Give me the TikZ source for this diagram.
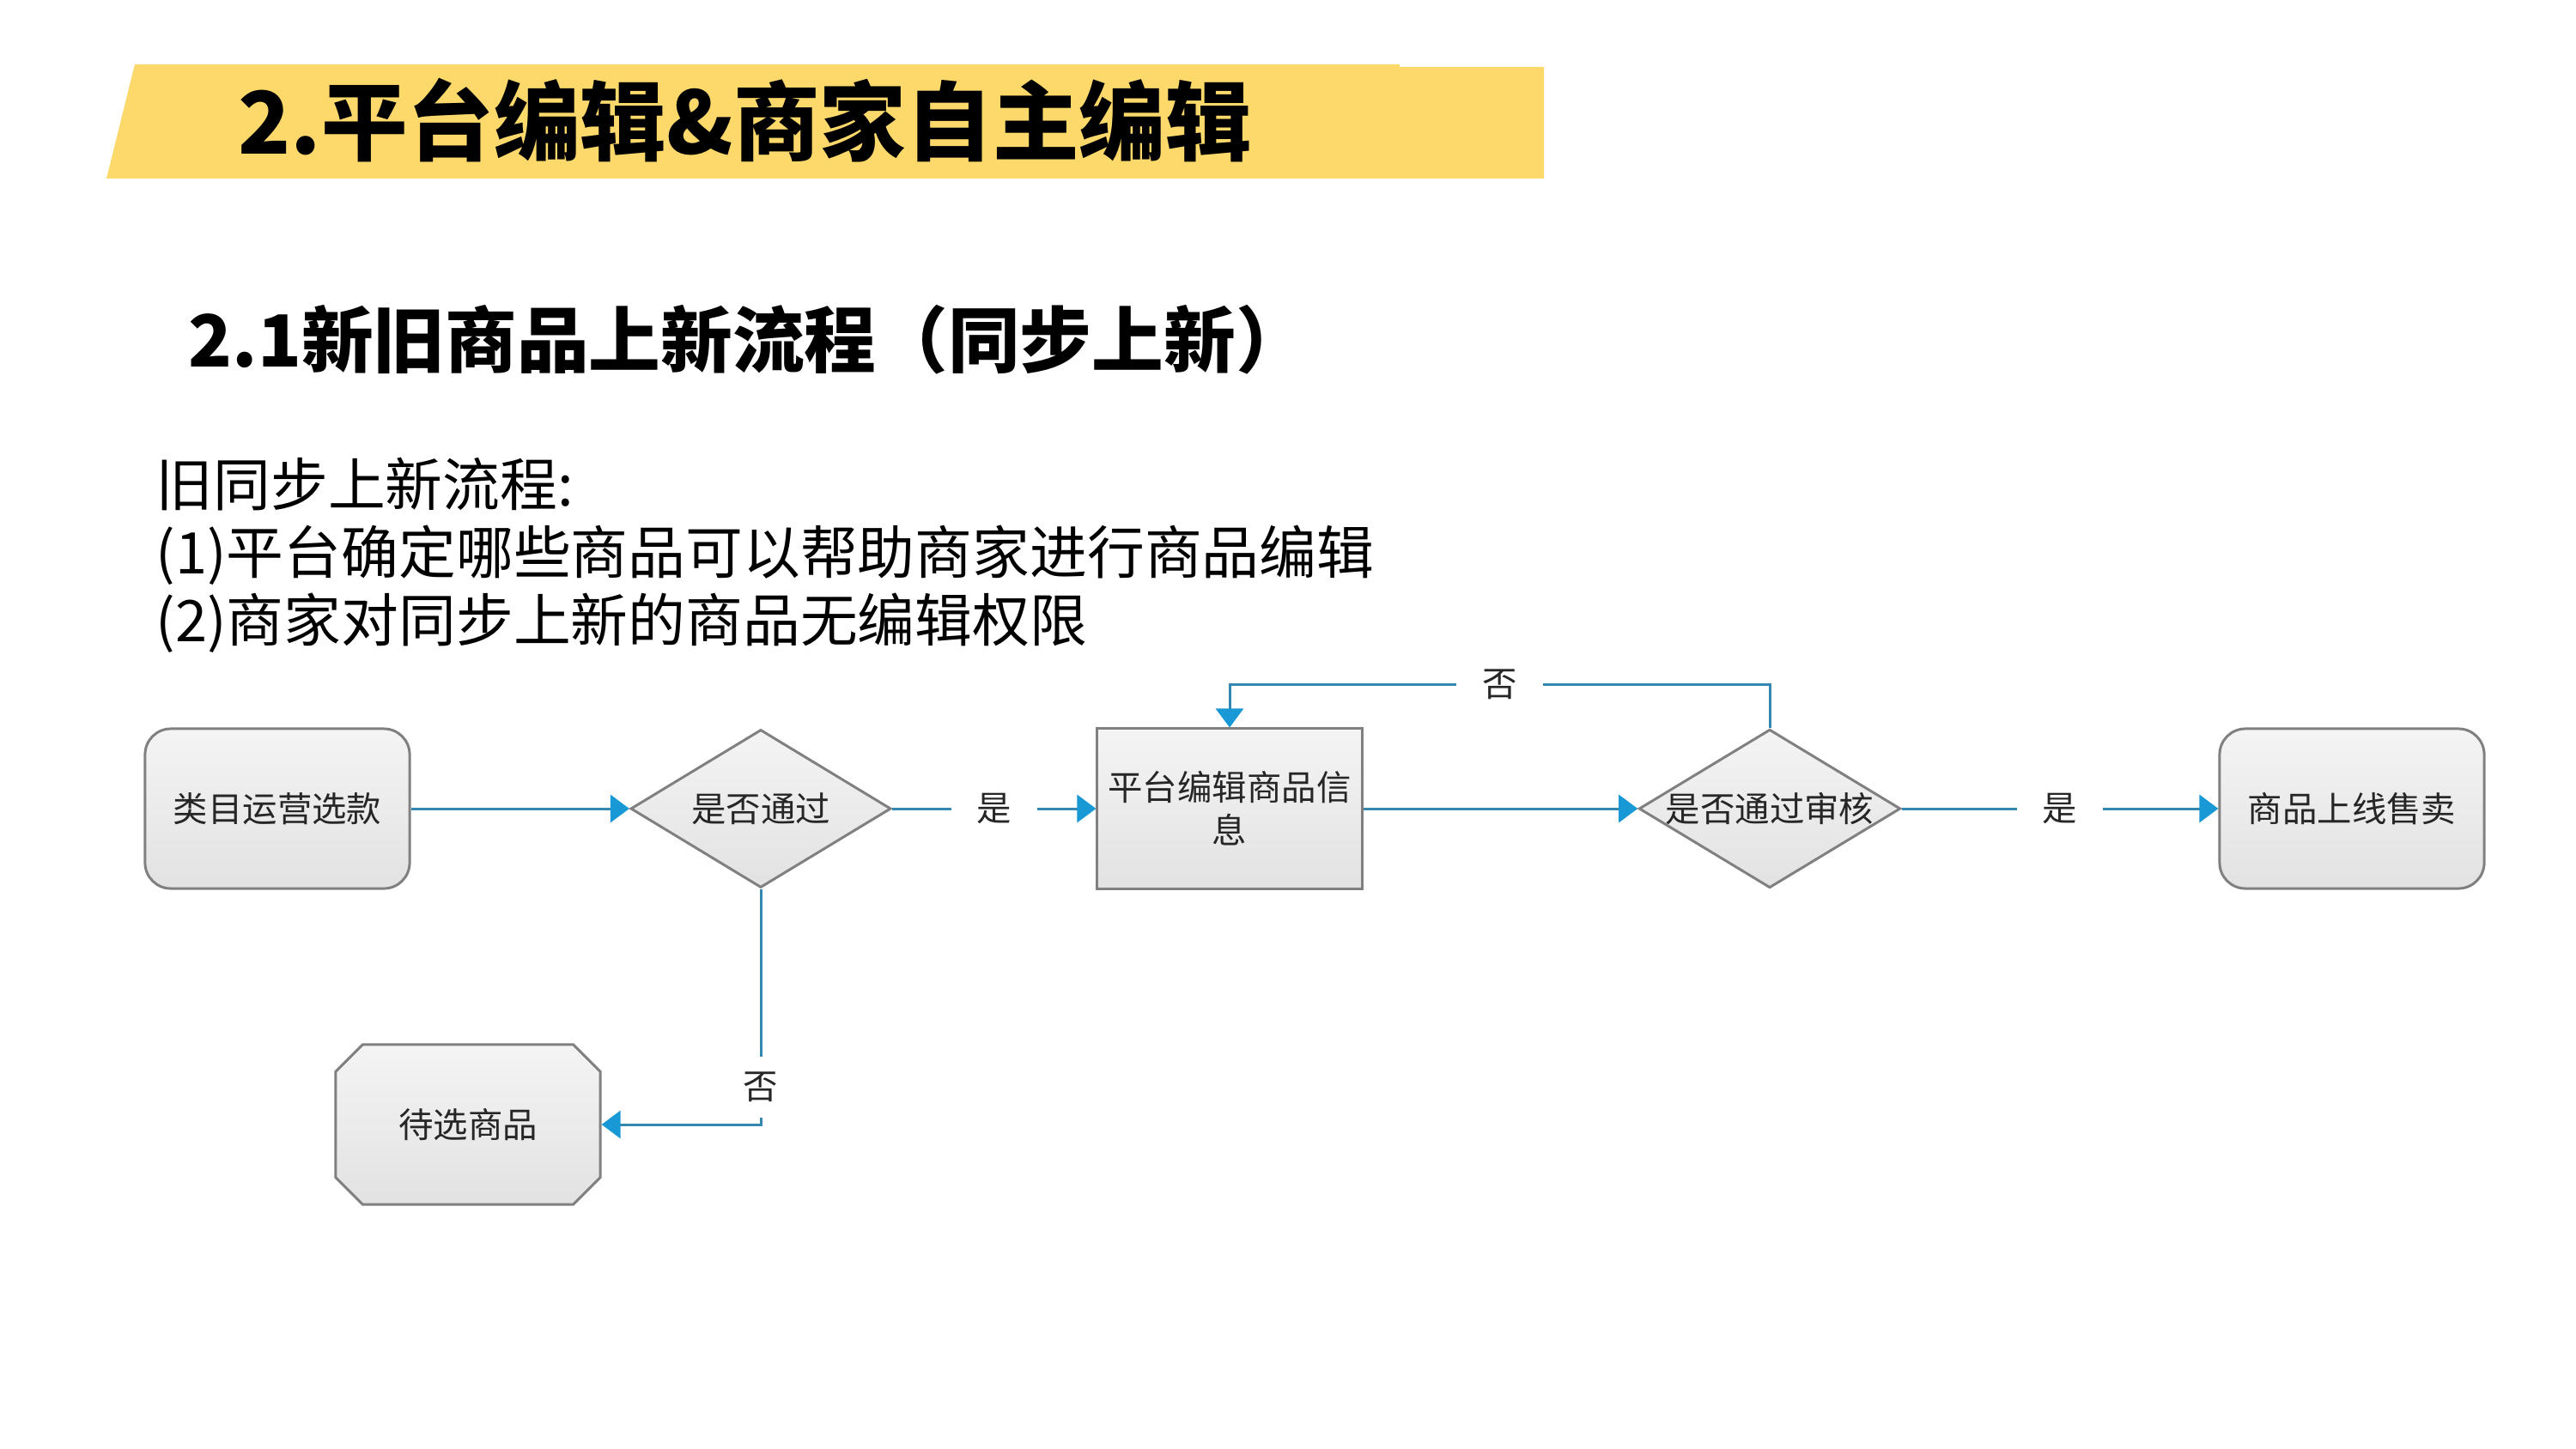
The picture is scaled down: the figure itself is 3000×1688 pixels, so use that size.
\documentclass[tikz,border=0pt]{standalone}
\usepackage{fontspec}
\setmainfont{Noto Sans CJK SC}
\usetikzlibrary{arrows.meta,shapes.geometric,shapes.misc}
\definecolor{bannery}{RGB}{253,216,106}
\definecolor{flowline}{RGB}{52,136,176}
\definecolor{flowtip}{RGB}{24,152,212}
\definecolor{boxedge}{RGB}{128,128,128}
\definecolor{boxtop}{RGB}{244,244,244}
\definecolor{boxbot}{RGB}{226,226,226}
\begin{document}
\begin{tikzpicture}[x=0.01cm, y=-0.01cm, >={Triangle[length=2.2mm,width=3.2mm,color=flowtip]},
        every node/.style={font=\fontsize{11.5}{14.2}\selectfont, text=black!85},
        box/.style={draw=boxedge, line width=0.85pt, top color=boxtop, bottom color=boxbot, minimum width=3.08cm, minimum height=1.86cm, inner sep=0pt},
        roundbox/.style={box, rounded corners=0.3cm},
        cutbox/.style={box, chamfered rectangle, chamfered rectangle xsep=0.26cm},
        decision/.style={box, diamond, aspect=1.65, minimum width=3.03cm, minimum height=1.84cm},
        flow/.style={->, draw=flowline, line width=0.85pt},
        lbl/.style={fill=white, inner xsep=0.3cm, inner ysep=0.18cm},
        heading/.style={anchor=west, inner sep=0pt, text=black}]
        \useasboundingbox (0,0) rectangle (3000,1688);
        \fill[bannery] (157,75) -- (1630,75) -- (1630,78) -- (1798,78) -- (1798,208) -- (124,208) -- cycle;
        \node[heading, font=\bfseries\fontsize{28.6}{34}\selectfont] (title) at (277,140) {2.平台编辑\&商家自主编辑};
        \node[heading, font=\bfseries\fontsize{23.8}{29}\selectfont] (subtitle) at (219,396) {2.1新旧商品上新流程（同步上新）};
        \node[heading, align=left, font=\fontsize{19}{22.5}\selectfont] (intro) at (181,647) {旧同步上新流程:\\(1)平台确定哪些商品可以帮助商家进行商品编辑\\(2)商家对同步上新的商品无编辑权限};
        \node[roundbox] (pick) at (323,942) {类目运营选款};
        \node[decision] (pass) at (886,942) {是否通过};
        \node[box, align=center] (edit) at (1432,942) {平台编辑商品信\\息};
        \node[decision] (audit) at (2061,942) {是否通过审核};
        \node[roundbox] (sell) at (2739,942) {商品上线售卖};
        \node[cutbox] (wait) at (545,1310) {待选商品};
        \draw[flow] (pick) -- (pass);
        \draw[flow] (pass) -- node[lbl]{是} (edit);
        \draw[flow] (edit) -- (audit);
        \draw[flow] (audit) -- node[lbl]{是} (sell);
        \draw[flow] (audit.north) -- ++(0,-51) -| node[lbl,pos=0.25]{否} (edit.north);
        \draw[flow] (pass.south) |- node[lbl,pos=0.42]{否} (wait.east);
    \end{tikzpicture}
\end{document}
